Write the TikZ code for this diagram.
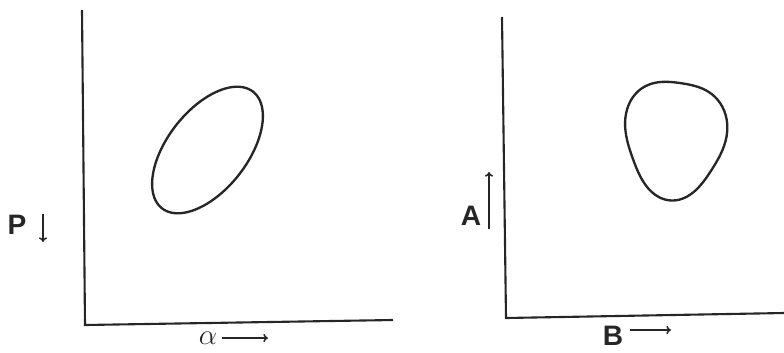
\documentclass[tikz,border=0pt]{standalone}
\usepackage{fontspec}
\setsansfont{Liberation Sans}
\usetikzlibrary{arrows.meta}

\begin{document}
\begin{tikzpicture}[
  x=0.03cm, y=-0.03cm,
  font=\sffamily\bfseries\fontsize{24}{26}\selectfont,
  axis/.style={draw=black!85, line width=1.8pt, line join=miter},
  loop/.style={draw=black!85, line width=2pt},
  lbl/.style={inner sep=0pt, text=black!85},
  dirarrow/.style={draw=black!85, line width=1.3pt, -{To[length=4pt,width=7pt]}}
]
\useasboundingbox (0,0) rectangle (784,352);

% ---- left plot ----
\coordinate (ltop) at (82,10);
\coordinate (lorig) at (85,325);
\coordinate (lend) at (393,320);
\draw[axis] (ltop) -- (lorig) -- (lend);

% tilted oval
\draw[loop] plot[domain=0:360, samples=90, smooth cycle, variable=\t]
  ({207.5 + 74*cos(\t)*cos(52) + 40*sin(\t)*sin(52)},
   {150 - 74*cos(\t)*sin(52) + 40*sin(\t)*cos(52)});

\node[lbl] (P) at (17,225) {P};
\coordinate (pa) at (43,214);
\coordinate (pb) at (43,242);
\draw[dirarrow] (pa) -- (pb);

\node[lbl, font=\fontsize{26}{28}\selectfont] (alpha) at (208,338) {$\alpha$};
\coordinate (aa) at (222,338);
\coordinate (ab) at (268,338);
\draw[dirarrow] (aa) -- (ab);

% ---- right plot ----
\coordinate (rtop) at (502,17);
\coordinate (rorig) at (506,318);
\coordinate (rend) at (784,313);
\draw[axis] (rtop) -- (rorig) -- (rend);

% rounded triangle
\draw[loop] plot[domain=0:360, samples=90, smooth cycle, variable=\t]
  ({675 + 50*(1+0.08*cos(3*(\t-97)))*cos(\t)},
   {137 + 59*(1+0.08*cos(3*(\t-97)))*sin(\t)});

\node[lbl] (A) at (471,216) {A};
\coordinate (ua) at (489,229);
\coordinate (ub) at (489,172);
\draw[dirarrow] (ua) -- (ub);

\node[lbl] (B) at (613,336) {B};
\coordinate (ba) at (630,330);
\coordinate (bb) at (671,330);
\draw[dirarrow] (ba) -- (bb);
\end{tikzpicture}
\end{document}
